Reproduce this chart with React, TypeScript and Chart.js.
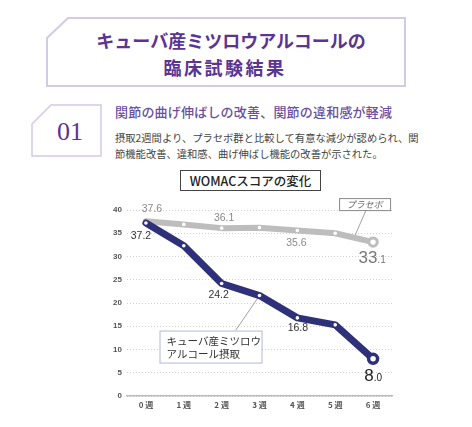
import React, { useEffect, useRef } from "react";
import { Chart, registerables } from "chart.js";

Chart.register(...registerables);

const weeks = ["0 週", "1 週", "2 週", "3 週", "4 週", "5 週", "6 週"];
const beeswax = [37.2, 32.3, 24.2, 21.6, 16.8, 15.3, 8.0];
const placebo = [37.6, 36.9, 36.1, 36.2, 35.6, 35.0, 33.1];
const beeswaxName = ["キューバ産ミツロウ", "アルコール摂取"];
const placeboName = "プラセボ";
const yMin = 0;
const yMax = 40;
const yStep = 5;

const NAVY = "#2e3079";
const GREY = "#bdbdbd";
const PURPLE = "#5b3494";
const JP = '"Noto Sans CJK JP", "Noto Sans", sans-serif';
const NUM = '"Liberation Sans", "DejaVu Sans", sans-serif';

function fmt(v: number) {
  return v.toFixed(1);
}

function drawBigNumber(ctx: CanvasRenderingContext2D, v: number, cx: number, cy: number, color: string) {
  const s = fmt(v);
  const [intPart, decPart] = s.split(".");
  ctx.fillStyle = color;
  ctx.textBaseline = "alphabetic";
  ctx.textAlign = "left";
  ctx.font = `17px ${NUM}`;
  const w1 = ctx.measureText(intPart).width;
  ctx.font = `10px ${NUM}`;
  const w2 = ctx.measureText("." + decPart).width;
  const left = cx - (w1 + w2) / 2;
  const base = cy + 6;
  ctx.font = `17px ${NUM}`;
  ctx.fillText(intPart, left, base);
  ctx.font = `10px ${NUM}`;
  ctx.fillText("." + decPart, left + w1, base);
}

function drawLabel(ctx: CanvasRenderingContext2D, v: number, cx: number, cy: number, color: string) {
  ctx.fillStyle = color;
  ctx.font = `10.5px ${NUM}`;
  ctx.textAlign = "center";
  ctx.textBaseline = "middle";
  ctx.fillText(fmt(v), cx, cy);
}

const annotPlugin = {
  id: "annot",
  beforeDatasetsDraw(chart: any) {
    const ctx = chart.ctx as CanvasRenderingContext2D;
    const d = chart.getDatasetMeta(0).data;
    const p = chart.getDatasetMeta(1).data;
    ctx.save();
    ctx.lineWidth = 0.8;
    // placebo leader
    const p6 = p[6];
    const p5 = p[5];
    const mx = p5.x + (p6.x - p5.x) * 0.53;
    const my = p5.y + (p6.y - p5.y) * 0.53;
    ctx.strokeStyle = "#888";
    ctx.beginPath();
    ctx.moveTo(p6.x - 7, p6.y - 32);
    ctx.lineTo(mx, my - 3);
    ctx.stroke();
    // beeswax leader
    const d3 = d[3];
    ctx.strokeStyle = "#888";
    ctx.beginPath();
    ctx.moveTo(d3.x - 24, d3.y + 35);
    ctx.lineTo(d3.x, d3.y);
    ctx.stroke();
    ctx.restore();
  },
  afterDatasetsDraw(chart: any) {
    const ctx = chart.ctx as CanvasRenderingContext2D;
    const d = chart.getDatasetMeta(0).data;
    const p = chart.getDatasetMeta(1).data;
    ctx.save();

    // placebo labels
    drawLabel(ctx, placebo[0], p[0].x + 6, p[0].y - 12, "#8a8a8a");
    drawLabel(ctx, placebo[2], p[2].x + 2.5, p[2].y - 10, "#8a8a8a");
    drawLabel(ctx, placebo[4], p[4].x - 1, p[4].y + 13, "#8a8a8a");
    drawBigNumber(ctx, placebo[6], p[6].x - 1, p[6].y + 15, "#777");

    // beeswax labels
    drawLabel(ctx, beeswax[0], d[0].x - 5, d[0].y + 13, "#333");
    drawLabel(ctx, beeswax[2], d[2].x - 3, d[2].y + 12, "#333");
    drawLabel(ctx, beeswax[4], d[4].x + 0.5, d[4].y + 10, "#333");
    drawBigNumber(ctx, beeswax[6], d[6].x, d[6].y + 16, "#222");

    // placebo box
    const bx = p[6].x - 34;
    const by = p[6].y - 44;
    ctx.fillStyle = "#fff";
    ctx.fillRect(bx, by, 51, 12);
    ctx.strokeStyle = "#8a8a8a";
    ctx.lineWidth = 1;
    ctx.strokeRect(bx + 0.5, by + 0.5, 51, 12);
    ctx.fillStyle = "#666";
    ctx.font = `italic 9px ${JP}`;
    ctx.textAlign = "center";
    ctx.textBaseline = "middle";
    ctx.fillText(placeboName, bx + 25.5, by + 6.5);

    // beeswax box
    const ex = d[3].x - 100;
    const ey = d[3].y + 35;
    ctx.fillStyle = "#fff";
    ctx.fillRect(ex, ey, 102, 32);
    ctx.strokeStyle = "#b4b6d6";
    ctx.strokeRect(ex + 0.5, ey + 0.5, 102, 32);
    ctx.fillStyle = "#333";
    ctx.font = `10.5px ${JP}`;
    ctx.textAlign = "left";
    ctx.textBaseline = "middle";
    ctx.fillText(beeswaxName[0], ex + 7, ey + 10);
    ctx.fillText(beeswaxName[1], ex + 7, ey + 23);

    ctx.restore();
  },
};

function WomacChart() {
  const ref = useRef<HTMLCanvasElement | null>(null);
  useEffect(() => {
    if (!ref.current) return;
    const lastBig = (n: number, small: number, big: number) =>
      Array.from({ length: n }, (_, i) => (i === n - 1 ? big : small));
    const chart = new Chart(ref.current, {
      type: "line",
      data: {
        labels: weeks,
        datasets: [
          {
            label: beeswaxName.join(""),
            data: beeswax,
            borderColor: NAVY,
            borderWidth: 7,
            borderJoinStyle: "round",
            borderCapStyle: "round",
            tension: 0,
            pointRadius: lastBig(beeswax.length, 1.8, 4.5),
            pointBorderWidth: lastBig(beeswax.length, 0, 3.5),
            pointBackgroundColor: "#fff",
            pointBorderColor: NAVY,
          },
          {
            label: placeboName,
            data: placebo,
            borderColor: GREY,
            borderWidth: 6,
            borderJoinStyle: "round",
            borderCapStyle: "round",
            tension: 0,
            pointRadius: lastBig(placebo.length, 1.8, 4.2),
            pointBorderWidth: lastBig(placebo.length, 0, 3),
            pointBackgroundColor: "#fff",
            pointBorderColor: GREY,
          },
        ],
      },
      options: {
        animation: false,
        responsive: false,
        devicePixelRatio: 1,
        layout: { padding: { top: 14, right: 8, left: 0, bottom: 0 } },
        plugins: {
          legend: { display: false },
          tooltip: { enabled: false },
          title: { display: false },
        },
        scales: {
          x: {
            type: "category",
            offset: true,
            grid: { display: true, color: "rgba(0,0,0,0)", drawTicks: false },
            border: { display: true, color: "#bbb", width: 1.5 },
            ticks: {
              color: "#555",
              font: { size: 8, weight: "bold", family: JP },
              padding: 4,
            },
            afterFit: (s: any) => {
              s.height = 24;
            },
          },
          y: {
            min: yMin,
            max: yMax,
            grid: { color: "#cfcfcf", lineWidth: 1, drawTicks: false },
            border: { display: false, dash: [1, 2] },
            ticks: {
              stepSize: yStep,
              color: "#555",
              font: { size: 8, weight: "bold", family: NUM },
              padding: 5,
            },
            afterFit: (s: any) => {
              s.width = 27;
            },
          },
        },
      },
      plugins: [annotPlugin],
    } as any);
    return () => chart.destroy();
  }, []);
  return (
    <canvas
      ref={ref}
      width={300}
      height={224}
      style={{ position: "absolute", left: 100, top: 196, width: 300, height: 224 }}
    />
  );
}

export default function App() {
  const abs = (extra: React.CSSProperties): React.CSSProperties => ({
    position: "absolute",
    whiteSpace: "nowrap",
    margin: 0,
    ...extra,
  });
  return (
    <div
      style={{
        position: "fixed",
        left: 0,
        top: 0,
        width: 472,
        height: 427,
        background: "#fff",
        overflow: "hidden",
        fontFamily: JP,
      }}
    >
      <svg width={472} height={170} style={{ position: "absolute", left: 0, top: 0 }}>
        <polygon
          points="47,38 68,18 405,18 405,86 47,86"
          fill="none"
          stroke="#d3cae6"
          strokeWidth={2}
        />
        <polygon
          points="32,124 51,105 101,105 101,156 32,156"
          fill="none"
          stroke="#d3cae6"
          strokeWidth={1.5}
        />
      </svg>
      <div
        style={abs({
          left: 81,
          width: 300,
          top: 31,
          fontSize: 18,
          lineHeight: "18px",
          fontWeight: 700,
          color: PURPLE,
          textAlign: "center",
        })}
      >
        キューバ産ミツロウアルコールの
      </div>
      <div
        style={abs({
          left: 75,
          width: 300,
          top: 58,
          fontSize: 18,
          lineHeight: "18px",
          fontWeight: 700,
          color: PURPLE,
          textAlign: "center",
          letterSpacing: 2.5,
        })}
      >
        臨床試験結果
      </div>
      <div
        style={abs({
          left: 40,
          width: 60,
          top: 118,
          fontSize: 26,
          lineHeight: "28px",
          fontFamily: '"Liberation Serif", "DejaVu Serif", serif',
          color: PURPLE,
          textAlign: "center",
        })}
      >
        01
      </div>
      <div
        style={abs({
          left: 115,
          top: 105,
          fontSize: 13,
          lineHeight: "14px",
          fontWeight: 500,
          color: "#6b4fa3",
          letterSpacing: 0.2,
        })}
      >
        関節の曲げ伸ばしの改善、関節の違和感が軽減
      </div>
      <div
        style={abs({
          left: 115,
          top: 130,
          fontSize: 10.3,
          lineHeight: "16px",
          color: "#444",
        })}
      >
        摂取2週間より、プラセボ群と比較して有意な減少が認められ、関
        <br />
        節機能改善、違和感、曲げ伸ばし機能の改善が示された。
      </div>
      <div
        style={abs({
          left: 180,
          top: 170,
          width: 139,
          height: 19,
          border: "1.5px solid #444",
          fontSize: 12.5,
          lineHeight: "19px",
          fontWeight: 500,
          color: "#222",
          textAlign: "center",
        })}
      >
        WOMACスコアの変化
      </div>
      <WomacChart />
    </div>
  );
}
